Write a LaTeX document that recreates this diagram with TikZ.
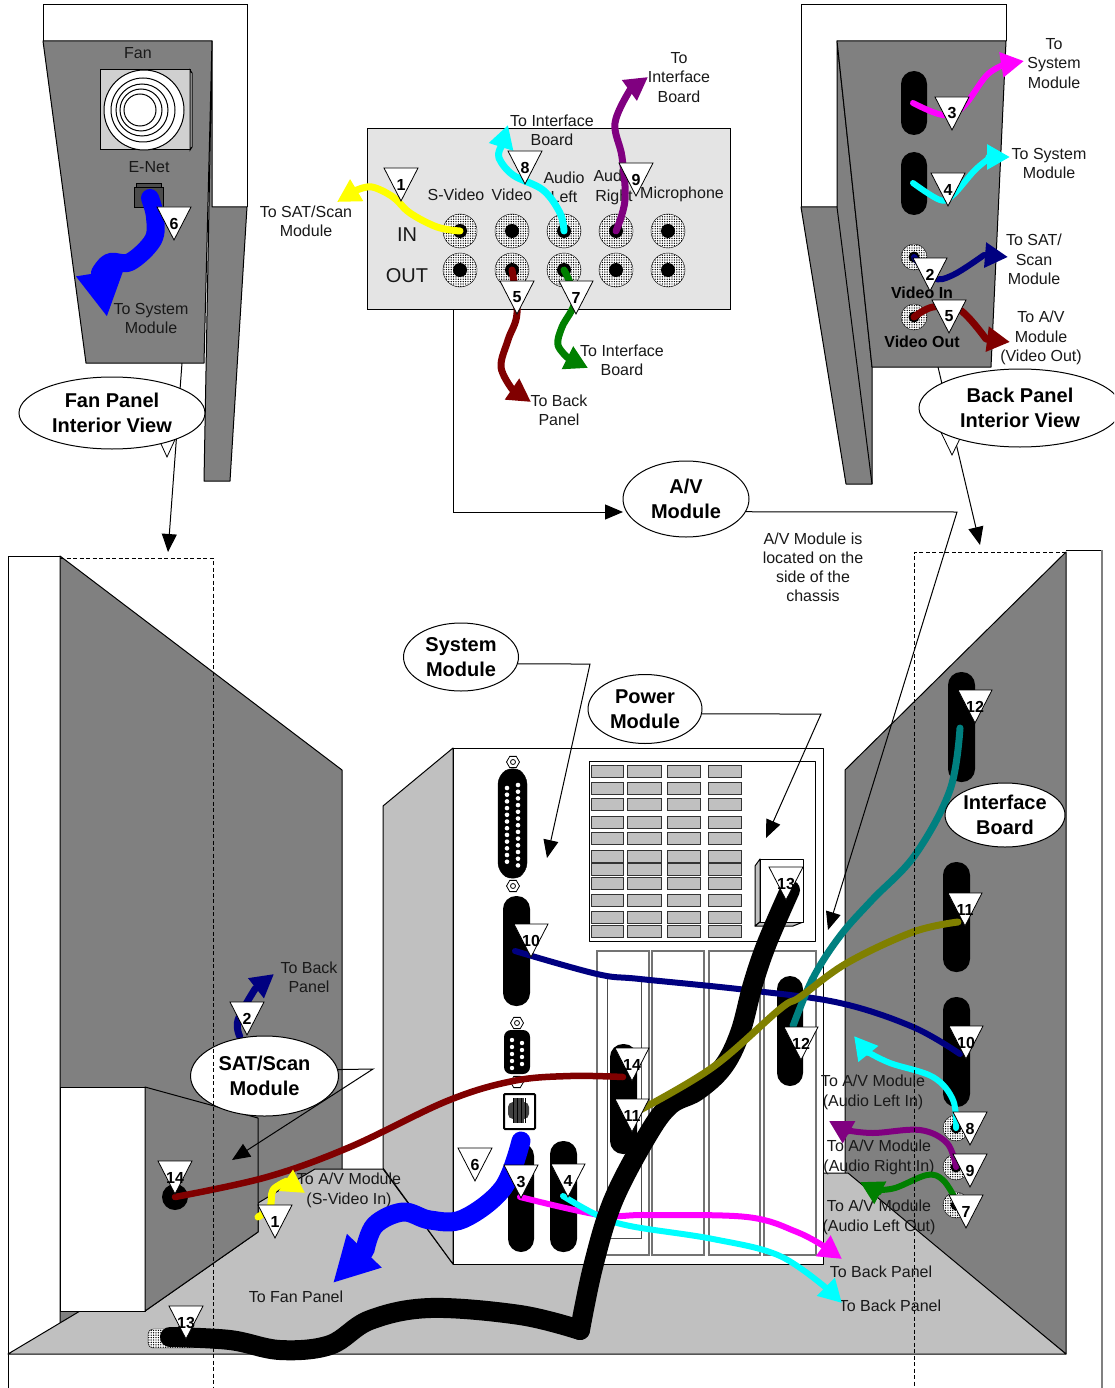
\documentclass[tikz,border=0pt]{standalone}
\usepackage{fontspec}
\setmainfont{Liberation Sans}
\usepackage{tikz}
\usetikzlibrary{arrows.meta,positioning,shapes.geometric,patterns}
\definecolor{panelgray}{HTML}{808080}
\definecolor{floorgray}{HTML}{C0C0C0}
\definecolor{platelight}{HTML}{E4E4E4}
\definecolor{fanface}{HTML}{D0D0D0}
\definecolor{navycable}{HTML}{000080}
\definecolor{redcable}{HTML}{800000}
\definecolor{greencable}{HTML}{008000}
\definecolor{purplecable}{HTML}{800080}
\definecolor{tealcable}{HTML}{008080}
\definecolor{olivecable}{HTML}{808000}
\definecolor{cyancable}{HTML}{00FFFF}
\definecolor{pinkcable}{HTML}{FF00FF}
\definecolor{yellowcable}{HTML}{FFFF00}
\definecolor{bluecable}{HTML}{0000FF}
\pgfdeclarepatternformonly{finedots}{\pgfpoint{-1pt}{-1pt}}{\pgfpoint{1.2pt}{1.2pt}}{\pgfpoint{2.4pt}{2.4pt}}{\pgfpathcircle{\pgfpointorigin}{.72pt}\pgfusepath{fill}}
\tikzset{
  wall/.style={draw, fill=panelgray, line width=1pt, line join=round},
  liteface/.style={draw, fill=floorgray, line width=1pt, line join=round},
  whiteface/.style={draw, fill=white, line width=1pt, line join=round},
  ventslot/.style={draw=black!80, fill=floorgray, line width=1pt},
  cardslot/.style={draw=black!55, line width=1.3pt},
  oval/.style={fill=black, rounded corners=13pt},
  lab/.style={font=\fontsize{16}{19.5}\selectfont, align=center, inner sep=0pt, text=black!90, yshift=-.3pt},
  labbold/.style={font=\fontsize{16}{19.5}\selectfont\bfseries, align=center, inner sep=0pt, yshift=-.3pt},
  callout/.style={draw, fill=white, ellipse, inner sep=0pt, align=center, line width=1pt, font=\fontsize{20}{24.5}\selectfont\bfseries},
  pointer/.style={line width=1pt, -{Triangle[length=18pt,width=15pt]}},
  viewline/.style={dash pattern=on 4pt off 2.5pt, line width=1pt},
  jack/.style={draw, circle, inner sep=0pt, preaction={fill=white}, pattern=finedots, pattern color=black},
  jackhole/.style={fill=black, circle, inner sep=0pt},
  hexnut/.style={draw, fill=white, regular polygon, regular polygon sides=6, minimum size=13pt, inner sep=0pt, line width=.8pt},
  cable/.style={line cap=round, line join=round},
  head/.style={-{Triangle[length=23pt,width=24pt]}},
  bighead/.style={-{Triangle[length=45pt,width=45pt]}},
  tagedge/.style={draw, fill=white, line width=.8pt, line join=miter},
  tagnum/.style={font=\fontsize{16}{16}\selectfont\bfseries, inner sep=0pt}
}
\begin{document}
\begin{tikzpicture}[x=1pt,y=-1pt]
  \useasboundingbox (0,0) rectangle (1114,1388);
  \clip (0,0) rectangle (1114,1388);
  \fill[white] (0,0) rectangle (1114,1388);

  % fan panel
  \draw[pointer] (182,363) -- (168,552);
  \draw[line width=1pt] (43,41) -- (43,5) -- (247,5) -- (247,207);
  \draw[wall] (212,41) -- (212,207) -- (247,207) -- (230,481) -- (204,481) -- cycle;
  \draw[wall] (43,41) -- (212,41) -- (204,363) -- (86,363) -- cycle;
  \draw[fill=fanface, line width=1pt] (100,70) rectangle (190,150);
  \draw[fill=fanface, line width=1pt] (190,70) -- (192,73) -- (192,147) -- (190,150) -- cycle;
  \foreach \x/\r in {144/40,143/32,142/26,141/21,140/16} \draw[fill=white, line width=1pt] (\x,110) circle[radius=\r pt];
  \draw[fill=black!70, line width=1pt] (136,184) rectangle (161,189);
  \draw[fill=black!70, line width=1pt] (134,188) rectangle (163,208);

  % back panel
  \draw[pointer] (938,367) -- (980,545);
  \draw[line width=1pt] (1006,41) -- (1006,5) -- (801,5) -- (801,207);
  \draw[wall] (837,41) -- (837,207) -- (801,207) -- (846,484) -- (872,484) -- (872,367) -- cycle;
  \draw[line width=1pt] (837,207) -- (872,484);
  \draw[wall] (837,41) -- (1006,41) -- (991,367) -- (872,367) -- cycle;
  \foreach \ya/\yb in {71/135,152/215} \fill[oval] (901,\ya) rectangle (927,\yb);
  \node[jack, minimum size=26pt] (jackvi) at (914,257) {};
  \node[jack, minimum size=26pt] (jackvo) at (914,317) {};
  \node[jackhole, minimum size=11pt] at (jackvi) {};
  \node[jackhole, minimum size=11pt] at (jackvo) {};

  % a/v plate
  \node[draw, fill=platelight, line width=1pt, minimum width=363pt, minimum height=181pt, inner sep=0pt] (avplate) at (549,219) {};
  \foreach \x in {460,512,564,616,668} \foreach \row/\y in {in/231,out/270} {
    \node[jack, minimum size=34pt] (\row\x) at (\x,\y) {};
    \node[jackhole, minimum size=14pt] at (\row\x) {};
  }

  % chassis
  \draw[line width=1pt] (8,1388) -- (8,556) -- (60,556);
  \draw[line width=1pt] (1066,550) -- (1102,550);
  \draw[line width=1.5pt, draw=black!50] (1102,550) -- (1102,1388);
  \draw[wall] (60,556) -- (342,770) -- (342,1169) -- (342,1340) -- (60,1340) -- cycle;
  \draw[wall] (845,770) -- (1066,552) -- (1066,1354) -- (845,1173) -- cycle;
  \foreach \xa/\ya/\xb/\yb in {948/672/975/782,943/862/970/972,943/997/970/1107} \fill[oval] (\xa,\ya) rectangle (\xb,\yb);
  \node[jack, minimum size=26pt] (jack8) at (956,1128) {};
  \node[jack, minimum size=26pt] (jack9) at (956,1167) {};
  \node[jack, minimum size=26pt] (jack7) at (956,1205) {};
  \node[jackhole, minimum size=11pt] at (jack8) {};
  \node[jackhole, minimum size=11pt] at (jack9) {};
  \node[jackhole, minimum size=11pt] at (jack7) {};
  \draw[liteface] (8,1354) -- (80,1311) -- (145,1311) -- (258,1232) -- (258,1203) -- (315,1169) -- (383,1169) -- (453,1264) -- (823,1264) -- (823,1173) -- (848,1173) -- (1066,1354) -- cycle;
  \draw[whiteface] (60,1087) rectangle (145,1311);
  \draw[wall] (145,1087) -- (258,1118) -- (258,1232) -- (145,1311) -- cycle;
  \node[jackhole, minimum size=26pt] (hole14) at (175,1197) {};
  \draw[jack, rounded corners=5pt] (148,1329) rectangle (198,1348);

  % system module
  \draw[liteface] (383,806) -- (453,748) -- (453,1264) -- (383,1168) -- cycle;
  \draw[whiteface] (453,748) rectangle (823,1264);
  \draw[whiteface] (589,761) rectangle (815,941);
  \foreach \y in {765,782,798,816,832,850,863,877,894,911,925} \foreach \x/\w in {591/32,627/34,667/33,708/33} \draw[ventslot] (\x,\y) rectangle ++(\w,12);
  \draw[liteface] (755,866) -- (760,859) -- (760,922) -- (755,926) -- cycle;
  \draw[liteface] (755,926) -- (760,922) -- (803,922) -- (793,926) -- cycle;
  \draw[whiteface] (760,859) rectangle (803,922);
  \foreach \xa/\xb in {597/649,652/704,709/760,764/816} \draw[cardslot] (\xa,951) rectangle (\xb,1255);
  \draw[line width=1pt, draw=black!70] (607,976) rectangle (641,1238);

  \node[hexnut] (nutb) at (513,762) {};
  \node[hexnut] (nutc) at (513,886) {};
  \draw[fill=white, line width=.8pt] (513,762) circle[radius=2.5pt] (513,886) circle[radius=2.5pt];
  \draw[fill=black, draw=black, rounded corners=9pt] (498,775) -- (513,766) -- (527,775) -- (527,872) -- (513,881) -- (498,872) -- cycle;
  \foreach \i in {0,...,12} \fill[white] (518,785+\i*6.7) circle[radius=2.3pt];
  \foreach \i in {0,...,11} \fill[white] (507,788+\i*6.7) circle[radius=2.3pt];

  \foreach \xa/\ya/\xb/\yb in {503/896/530/1006,508/1143/534/1252,550/1141/577/1252,610/1044/637/1154,777/976/803/1086} \fill[oval] (\xa,\ya) rectangle (\xb,\yb);

  \node[hexnut] (nutd) at (517,1023) {};
  \node[hexnut] (nute) at (517,1082) {};
  \draw[fill=white, line width=.8pt] (517,1023) circle[radius=2.5pt];
  \fill[black, rounded corners=7pt] (504,1030) rectangle (530,1074);
  \foreach \y in {1040,1047,1054,1061,1068} \fill[white] (512,\y) circle[radius=2.2pt];
  \foreach \y in {1043,1050,1057,1064} \fill[white] (522,\y) circle[radius=2.2pt];
  \draw[fill=white, line width=2pt, rounded corners=1pt] (504,1094) rectangle (535,1129);
  \fill[black!75, rounded corners=5pt] (508,1102) rectangle (529,1119);
  \fill[black!75] (513,1098) rectangle (524,1123);
  \foreach \x in {513,517,521,525} \draw[line width=.8pt] (\x,1098) -- (\x,1123);

  % labels
  \node[lab] (fan) at (138,53) {Fan};
  \node[lab] (enet) at (149,167) {E-Net};
  \node[lab] (tosys) at (151,318) {To System\\Module};
  \node[lab] (tosat) at (306,221) {To SAT/Scan\\Module};
  \node[lab] (toifa) at (552,130) {To Interface\\Board};
  \node[lab] (toifb) at (679,77) {To\\Interface\\Board};
  \node[lab] (toifc) at (622,360) {To Interface\\Board};
  \node[lab] (tobka) at (559,410) {To Back\\Panel};
  \node[lab] (lsvid) at (456,194) {S-Video};
  \node[lab] (lvid) at (512,194) {Video};
  \node[lab] (laul) at (564,187) {Audio\\Left};
  \node[lab] (laur) at (614,187) {Audio\\Right};
  \node[lab] (lmic) at (682,194) {Microphone};
  \node[lab, font=\fontsize{20}{24}\selectfont] (lin) at (407,234) {IN};
  \node[lab, font=\fontsize{20}{24}\selectfont] (lout) at (407,275) {OUT};
  \node[lab] (tosyb) at (1054,63) {To\\System\\Module};
  \node[lab] (tosyc) at (1049,163) {To System\\Module};
  \node[lab] (tosab) at (1034,259) {To SAT/\\Scan\\Module};
  \node[lab] (toavo) at (1041,338) {To A/V\\Module\\(Video Out)};
  \node[labbold] (lvin) at (922,292) {Video In};
  \node[labbold] (lvout) at (922,341) {Video Out};
  \node[lab, font=\fontsize{16}{19.3}\selectfont] (avnote) at (813,567) {A/V Module is\\located on the\\side of the\\chassis};
  \node[lab] (tobkb) at (309,977) {To Back\\Panel};
  \node[lab] (tosin) at (349,1190) {To A/V Module\\(S-Video In)};
  \node[lab] (tofan) at (296,1296) {To Fan Panel};
  \node[lab] (toall) at (873,1092) {To A/V Module\\(Audio Left In)};
  \node[lab] (toarl) at (879,1157) {To A/V Module\\(Audio Right In)};
  \node[lab] (toalo) at (879,1217) {To A/V Module\\(Audio Left Out)};
  \node[lab] (tobkc) at (881,1271) {To Back Panel};
  \node[lab] (tobkd) at (890,1305) {To Back Panel};

  % cables, top
  \draw[cable, bluecable, line width=18pt, bighead] plot[smooth, tension=.6] coordinates {(150,198) (155,217) (153,240) (130,262) (110,262) (100,273)} -- (107,317);
  \draw[cable, yellowcable, line width=7pt, head] plot[smooth, tension=.6] coordinates {(in460.center) (437,227) (410,213) (393,197) (372,187) (357,190)} -- (337,202);
  \draw[cable, cyancable, line width=7pt, head] plot[smooth, tension=.6] coordinates {(in564.center) (560,213) (543,190) (513,175) (499,158) (501,147)} -- (508,125);
  \draw[cable, purplecable, line width=7pt, head] plot[smooth, tension=.6] coordinates {(in616.center) (625,200) (622,157) (615,123) (630,90)} -- (648,77);
  \draw[cable, redcable, line width=7pt, head] plot[smooth, tension=.6] coordinates {(out512.center) (517,313) (508,340) (501,367) (512,389)} -- (531,402);
  \draw[cable, greencable, line width=7pt, head] plot[smooth, tension=.6] coordinates {(out564.center) (575,300) (562,327) (558,345) (568,358)} -- (588,368);
  \draw[cable, pinkcable, line width=6pt, head] plot[smooth, tension=.6] coordinates {(913,103) (943,115) (963,107) (987,75) (1006,64)} -- (1024,61);
  \draw[cable, cyancable, line width=6pt, head] plot[smooth, tension=.6] coordinates {(913,183) (940,200) (953,195) (975,170) (991,157)} -- (1010,157);
  \draw[cable, navycable, line width=6pt, head] plot[smooth, tension=.6] coordinates {(jackvi.center) (933,278) (953,275) (984,255)} -- (1008,257);
  \draw[cable, redcable, line width=7pt, head] plot[smooth, tension=.6] coordinates {(jackvo.center) (933,307) (960,310) (986,339)} -- (1010,342);

  % cables, chassis
  \draw[cable, navycable, line width=6pt] plot[smooth, tension=.6] coordinates {(515,951) (597,974) (640,979) (747,990) (840,1003) (913,1027) (960,1054)};
  \draw[cable, tealcable, line width=7pt] plot[smooth, tension=.6] coordinates {(960,728) (950,790) (915,855) (872,900) (840,936) (813,978) (793,1026)};
  \draw[cable, pinkcable, line width=6pt, head] plot[smooth, tension=.6] coordinates {(520,1197) (600,1215) (647,1215) (747,1217) (797,1232) (825,1247)} -- (842,1259);
  \draw[cable, cyancable, line width=6pt, head] plot[smooth, tension=.6] coordinates {(563,1196) (597,1215) (630,1226) (713,1239) (780,1256) (831,1292)} -- (842,1303);
  \draw[cable, black, line width=20pt] plot[smooth, tension=.6] coordinates {(790,890) (767,943) (753,984) (740,1033) (723,1067) (697,1091) (670,1105) (647,1136) (613,1201) (593,1267) (580,1330)};
  \draw[cable, black, line width=20pt] plot[smooth, tension=.6] coordinates {(580,1330) (520,1315) (430,1308) (370,1320) (330,1345) (280,1350) (230,1340) (170,1337)};
  \draw[cable, olivecable, line width=7pt] plot[smooth, tension=.6] coordinates {(958,922) (913,932) (847,963) (800,997) (780,1009) (713,1067) (640,1110)};
  \draw[cable, redcable, line width=6.5pt] plot[smooth, tension=.6] coordinates {(623,1077) (570,1076) (513,1081) (447,1101) (350,1147) (267,1177) (hole14.center)};
  \draw[cable, bluecable, line width=19pt, bighead] plot[smooth, tension=.6] coordinates {(521,1141) (503,1188) (463,1219) (430,1220) (403,1212) (375,1225) (365,1250)} -- (333,1283);
  \draw[cable, cyancable, line width=6pt, head] plot[smooth, tension=.6] coordinates {(jack8.center) (953,1100) (933,1077) (890,1063) (866,1051)} -- (854,1036);
  \draw[cable, purplecable, line width=6pt, head] plot[smooth, tension=.6] coordinates {(jack9.center) (947,1143) (920,1130) (873,1133) (845,1130)} -- (829,1121);
  \draw[cable, greencable, line width=6pt, head] plot[smooth, tension=.6] coordinates {(956,1200) (943,1180) (927,1175) (895,1188) (875,1190)} -- (860,1182);
  \draw[cable, navycable, line width=7pt, head] plot[smooth, tension=.6] coordinates {(240,1037) (238,1020) (255,989)} -- (274,974);
  \draw[cable, yellowcable, line width=7pt, head] plot[smooth, tension=.6] coordinates {(258,1217) (270,1207) (273,1190) (287,1181)} -- (305,1193);

  % pointers
  \coordinate (avdrop) at (453,310);
  \coordinate (avin) at (623,512);
  \draw[pointer] (avdrop) |- (avin);

  % hidden tags, then callouts
  \draw[tagedge] (150,420) -- (184,420) -- (167,457) -- cycle;
  \draw[tagedge] (935,420) -- (969,420) -- (952,455) -- cycle;
  \node[callout, minimum width=186pt, minimum height=72pt] (fanview) at (112,413) {Fan Panel\\Interior View};
  \node[callout, minimum width=202pt, minimum height=78pt] (backview) at (1020,408) {Back Panel\\Interior View};
  \node[callout, minimum width=126pt, minimum height=76pt] (avmod) at (686,499) {A/V\\Module};
  \node[callout, minimum width=115pt, minimum height=68pt] (sysmod) at (461,657) {System\\Module};
  \node[callout, minimum width=114pt, minimum height=69pt] (pwrmod) at (645,709) {Power\\Module};
  \node[callout, minimum width=120pt, minimum height=64pt] (ifboard) at (1005,815) {Interface\\Board};
  \node[callout, minimum width=148pt, minimum height=80pt] (satmod) at (264.5,1076) {SAT/Scan\\Module};

  \draw[pointer] (avmod.-12.4) -- (957,512) -- (828,930);
  \draw[pointer] (sysmod.-7.1) -- (590,664) -- (547,858);
  \draw[pointer] (pwrmod.-5) -- (821,714) -- (766,838);
  \draw[pointer] (satmod.5.5) -- (373,1069) -- (232,1160);

  % view outlines
  \draw[viewline] (60,558) -- (213,558) -- (213,1388);
  \draw[viewline] (1066,552) -- (914,552) -- (914,1388);

  % numbered tags
  \foreach \x/\y/\num [count=\i] in {401/168/1,525/151/8,636/163/9,517/281/5,576/281/7,174/207/6,952/97/3,948/173/4,930/258/2,949/300/5,
      531/924/10,786/867/13,632/1048/14,632/1099/11,801/1027/12,475/1148/6,521/1165/3,568/1164/4,
      975/690/12,965/893/11,966/1026/10,970/1112/8,970/1154/9,966/1195/7,247/1002/2,175/1161/14,275/1205/1,186/1306/13} {
    \draw[tagedge] (\x-17,\y) -- (\x+17,\y) -- (\x,\y+33) -- cycle;
    \node[tagnum] (tag\i) at (\x,\y+16.5) {\num};
  }
\end{tikzpicture}
\end{document}
